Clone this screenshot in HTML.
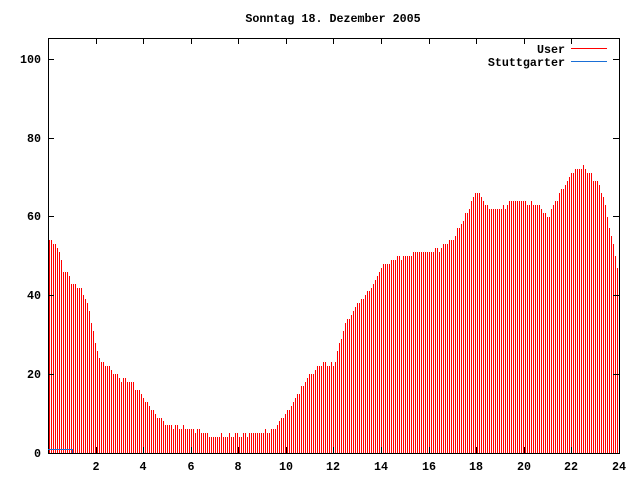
<!DOCTYPE html>
<html><head><meta charset="utf-8"><style>
body{margin:0;background:#fff}
svg text{font-family:"Liberation Mono","DejaVu Sans Mono",monospace;font-weight:bold;font-size:11.7px;fill:#000}
</style></head><body>
<svg id="s" width="640" height="480" xmlns="http://www.w3.org/2000/svg" shape-rendering="crispEdges">
<rect width="640" height="480" fill="#fff"/>
<g id="bars"></g>
<path d="M48.5 38.5H619.5V453.5H48.5Z" fill="none" stroke="#000"/>
<g id="ticks" stroke="#000"></g>
<text x="333" y="22" text-anchor="middle">Sonntag 18. Dezember 2005</text>
<g text-anchor="end">
<text x="41" y="457">0</text><text x="41" y="378">20</text><text x="41" y="299">40</text>
<text x="41" y="220">60</text><text x="41" y="142">80</text><text x="41" y="63">100</text>
<text x="565" y="53">User</text><text x="565" y="66">Stuttgarter</text>
</g>
<g text-anchor="middle">
<text x="96" y="470">2</text><text x="143" y="470">4</text><text x="191" y="470">6</text>
<text x="238" y="470">8</text><text x="286" y="470">10</text><text x="333" y="470">12</text>
<text x="381" y="470">14</text><text x="429" y="470">16</text><text x="476" y="470">18</text>
<text x="524" y="470">20</text><text x="571" y="470">22</text><text x="619" y="470">24</text>
</g>
<line x1="571" y1="48.5" x2="607" y2="48.5" stroke="#f00"/>
<line x1="571" y1="61.5" x2="607" y2="61.5" stroke="#1a6fd6"/>
<path d="M48 449.5H72.5V453" fill="none" stroke="#1a6fd6"/>
</svg>
<script>
var P=[[0,54],[0.3,53],[0.5,50],[0.7,45],[0.85,47],[0.95,43],[1.4,42],[1.6,38],[1.8,34],[2.0,27],[2.2,23],[2.5,22],[3,19],[3.5,18],[4,14],[4.5,10],[5,7],[6,6],[6.5,5],[7,4],[9,5],[9.5,6],[10,10],[10.5,15],[11,20],[11.5,23],[12,22],[12.2,27],[12.5,33],[13,38],[13.5,41],[14,47],[14.5,49],[15,50],[15.5,51],[16,51],[16.5,52],[17,54],[17.5,60],[18,67],[18.5,62],[19,62],[19.5,64],[20,64],[20.5,63],[21,60],[21.5,66],[22,71],[22.5,72.5],[23,69],[23.3,66],[23.5,60],[23.8,51],[24,44]];
function f(h){for(var i=1;i<P.length;i++)if(h<=P[i][0]){var a=P[i-1],b=P[i];return a[1]+(b[1]-a[1])*(h-a[0])/(b[0]-a[0]);}return 44;}
var s='';
for(var i=0;i<286;i++){var x=49+i*2,h=(x-48)/23.79;var v=Math.round(f(h)+(Math.sin(i*1.7)*0.4));var y=453-v*3.94;
s+='<rect x="'+x+'" y="'+y.toFixed(0)+'" width="1" height="'+(453-y).toFixed(0)+'" fill="#f00"/>';}
document.getElementById('bars').innerHTML=s;
var t='';
[59,138,216,295,374].forEach(function(y){t+='<line x1="48" y1="'+(y+.5)+'" x2="54" y2="'+(y+.5)+'"/><line x1="613" y1="'+(y+.5)+'" x2="619" y2="'+(y+.5)+'"/>';});
for(var k=2;k<24;k+=2){var x=Math.round(48+k*23.79)+.5;t+='<line x1="'+x+'" y1="453" x2="'+x+'" y2="447"/><line x1="'+x+'" y1="38" x2="'+x+'" y2="44"/>';}
document.getElementById('ticks').innerHTML=t;
</script>
</body></html>
